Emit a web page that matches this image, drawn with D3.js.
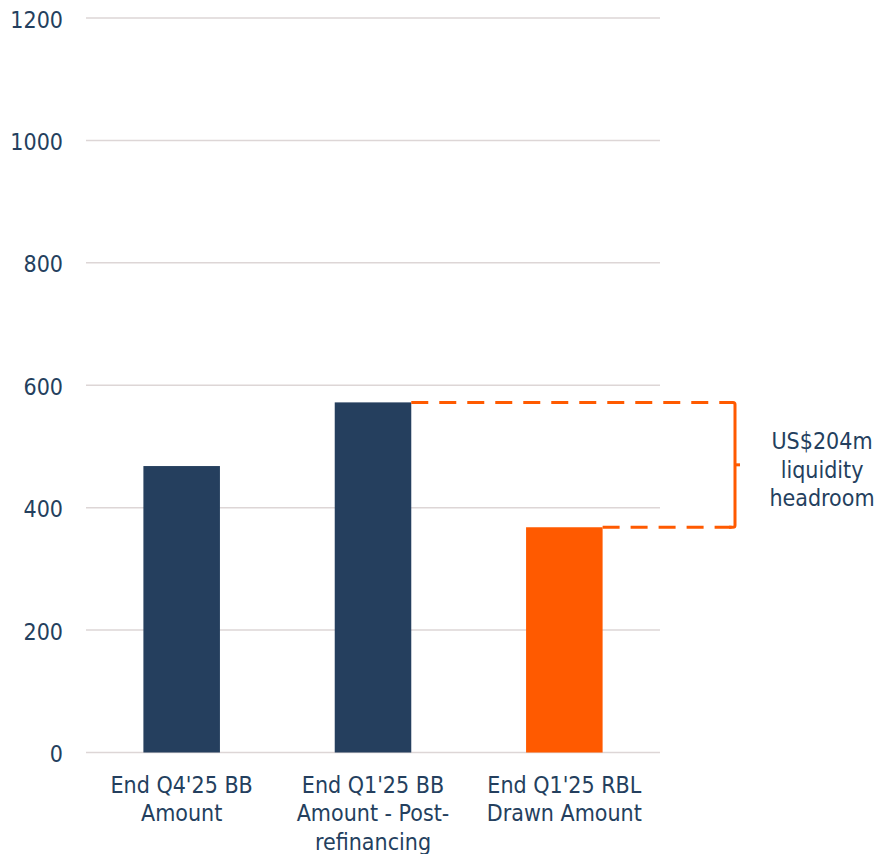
<!DOCTYPE html>
<html>
<head>
<meta charset="utf-8">
<script src="https://cdn.jsdelivr.net/npm/d3@7"></script>
<style>
  html, body { margin: 0; padding: 0; background: #fff; }
</style>
</head>
<body>
<div id="chart"></div>
<script>
const width = 879;
const height = 854;

// Chart data
const categories = [
  ["End Q4'25 BB", "Amount"],
  ["End Q1'25 BB", "Amount - Post-", "refinancing"],
  ["End Q1'25 RBL", "Drawn Amount"]
];
const values = [468, 572, 368];
const barColors = ["#253f5e", "#253f5e", "#ff5a00"];
const yTicks = [0, 200, 400, 600, 800, 1000, 1200];
const headroomLabel = ["US$204m", "liquidity", "headroom"];

const textColor = "#243f5e";
const font = "'DejaVu Sans Condensed', 'DejaVu Sans', sans-serif";
const fontSize = "23px";

const svg = d3.select("#chart").append("svg")
    .attr("width", width)
    .attr("height", height);

const x = d3.scaleBand()
    .domain(d3.range(categories.length))
    .range([86, 660])
    .paddingInner(0.6)
    .paddingOuter(0.3);

const y = d3.scaleLinear()
    .domain([0, 1200])
    .range([752.5, 18]);

// Gridlines
svg.append("g")
    .selectAll("line")
    .data(yTicks)
    .enter().append("line")
    .attr("x1", 86)
    .attr("x2", 660)
    .attr("y1", d => y(d))
    .attr("y2", d => y(d))
    .attr("stroke", "#ddd6d6")
    .attr("stroke-width", 1.5);

// Y tick labels
svg.append("g")
    .selectAll("text")
    .data(yTicks)
    .enter().append("text")
    .attr("x", 63)
    .attr("y", d => y(d) + 9.5)
    .attr("text-anchor", "end")
    .attr("font-family", font)
    .attr("font-size", fontSize)
    .attr("fill", textColor)
    .text(d => d);

// Bars
svg.append("g")
    .selectAll("rect")
    .data(values)
    .enter().append("rect")
    .attr("x", (d, i) => x(i))
    .attr("width", x.bandwidth())
    .attr("y", d => y(d))
    .attr("height", d => y(0) - y(d))
    .attr("fill", (d, i) => barColors[i]);

// Category labels
const cat = svg.append("g")
    .selectAll("text")
    .data(categories)
    .enter().append("text")
    .attr("text-anchor", "middle")
    .attr("font-family", font)
    .attr("font-size", fontSize)
    .attr("fill", textColor);

cat.selectAll("tspan")
    .data((d, i) => d.map(t => ({ t, i })))
    .enter().append("tspan")
    .attr("x", d => x(d.i) + x.bandwidth() / 2)
    .attr("y", (d, j) => 793 + j * 28.3)
    .text(d => d.t);

// Headroom bracket
const topY = y(values[1]);
const botY = y(values[2]);
const bx = 735;

svg.append("line")
    .attr("x1", x(1) + x.bandwidth())
    .attr("x2", bx - 3)
    .attr("y1", topY)
    .attr("y2", topY)
    .attr("stroke", "#ff5a00")
    .attr("stroke-width", 3)
    .attr("stroke-dasharray", "17,11");

svg.append("line")
    .attr("x1", x(2) + x.bandwidth())
    .attr("x2", bx - 3)
    .attr("y1", botY)
    .attr("y2", botY)
    .attr("stroke", "#ff5a00")
    .attr("stroke-width", 3)
    .attr("stroke-dasharray", "17,11");

svg.append("path")
    .attr("d", `M${bx - 6},${topY} L${bx - 2},${topY} Q${bx},${topY} ${bx},${topY + 2}` +
               ` L${bx},${botY - 2} Q${bx},${botY} ${bx - 2},${botY} L${bx - 6},${botY}`)
    .attr("fill", "none")
    .attr("stroke", "#ff5a00")
    .attr("stroke-width", 3);

svg.append("line")
    .attr("x1", bx)
    .attr("x2", bx + 5)
    .attr("y1", (topY + botY) / 2)
    .attr("y2", (topY + botY) / 2)
    .attr("stroke", "#ff5a00")
    .attr("stroke-width", 3);

// Headroom text
svg.append("text")
    .attr("text-anchor", "middle")
    .attr("font-family", font)
    .attr("font-size", fontSize)
    .attr("fill", textColor)
    .selectAll("tspan")
    .data(headroomLabel)
    .enter().append("tspan")
    .attr("x", 822)
    .attr("y", (d, i) => 449 + i * 28.7)
    .text(d => d);
</script>
</body>
</html>
